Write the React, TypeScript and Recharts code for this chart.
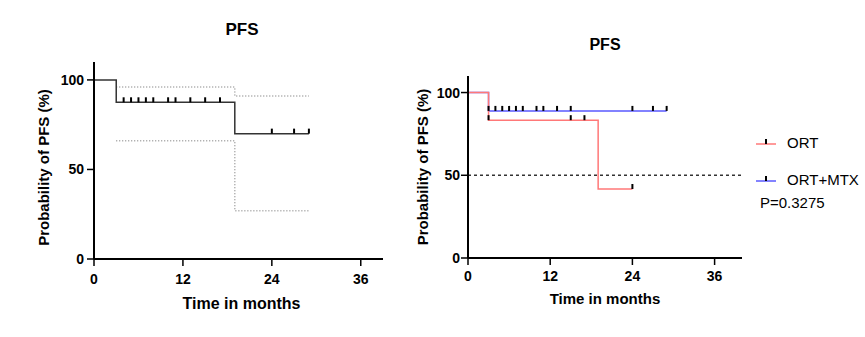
import { ComposedChart, Line, Scatter, XAxis, YAxis, ReferenceLine } from "recharts";

const xTicks = [0, 12, 24, 36];
const yTicks = [0, 50, 100];

// whole cohort
const allTimes = [0, 3, 19, 29];
const allSurv = [100, 87.5, 70, 70];
const allCensored = [4, 5, 6, 7, 8, 10, 11, 13, 15, 17, 24, 27, 29];
const ciTimes = [3, 19, 29];
const ciUpper = [96, 91, 91];
const ciLower = [66, 27, 27];

// by treatment
const ortTimes = [0, 3, 19, 24];
const ortSurv = [100, 83.3, 41.7, 41.7];
const ortCensored = [3, 15, 17, 24];
const mtxTimes = [0, 3, 29];
const mtxSurv = [100, 88.9, 88.9];
const mtxCensored = [3, 4, 5, 6, 7, 8, 10, 11, 13, 15, 24, 27, 29];

const groups = [
  { name: "ORT", color: "#ff7878" },
  { name: "ORT+MTX", color: "#5a5aff" },
];
const pValue = "P=0.3275";

const FONT = "'Liberation Sans', Arial, sans-serif";

const toPoints = (xs: number[], ys: number[]) => xs.map((x, i) => ({ x, y: ys[i] }));

// survival value of a step curve at time t
const survAt = (xs: number[], ys: number[], t: number) => {
  let v = ys[0];
  xs.forEach((x, i) => {
    if (x <= t) v = ys[i];
  });
  return v;
};

const censorPoints = (xs: number[], ys: number[], cs: number[]) =>
  cs.map((t) => ({ x: t, y: survAt(xs, ys, t) }));

const CensorTick = (props: any) => {
  const { cx, cy } = props;
  if (cx == null || cy == null) return null;
  return <line x1={cx} x2={cx} y1={cy} y2={cy - 5} stroke="#000" strokeWidth={2} />;
};

const axisLine = { stroke: "#000", strokeWidth: 2 };
const tickLine = { stroke: "#000", strokeWidth: 1.5 };
const tickStyle = { fill: "#000", fontSize: 14, fontWeight: 700, fontFamily: FONT };

const yTitle = (dx: number, dy: number) => (props: any) => {
  const vb = props.viewBox;
  const x = vb.x + dx;
  const y = vb.y + vb.height / 2 + dy;
  return (
    <text
      x={x}
      y={y}
      transform={`rotate(-90, ${x}, ${y})`}
      textAnchor="middle"
      dominantBaseline="central"
      fontFamily={FONT}
      fontWeight={700}
      fontSize={15}
      fill="#000"
    >
      Probability of PFS (%)
    </text>
  );
};

const xTitle = (dx: number, dy: number, size: number) => (props: any) => {
  const vb = props.viewBox;
  return (
    <text
      x={vb.x + vb.width / 2 + dx}
      y={vb.y + dy}
      textAnchor="middle"
      dominantBaseline="central"
      fontFamily={FONT}
      fontWeight={700}
      fontSize={size}
      fill="#000"
    >
      Time in months
    </text>
  );
};

function Title({ x, y, size }: { x: number; y: number; size: number }) {
  return (
    <div
      style={{
        position: "absolute",
        left: x - 50,
        top: y - size / 2 - 2,
        width: 100,
        textAlign: "center",
        fontFamily: FONT,
        fontWeight: 700,
        fontSize: size,
        lineHeight: `${size + 4}px`,
      }}
    >
      PFS
    </div>
  );
}

export default function App() {
  const allCurve = toPoints(allTimes, allSurv);
  const upper = toPoints(ciTimes, ciUpper);
  const lower = toPoints(ciTimes, ciLower);
  const allCens = censorPoints(allTimes, allSurv, allCensored);

  const ortCurve = toPoints(ortTimes, ortSurv);
  const mtxCurve = toPoints(mtxTimes, mtxSurv);
  const ortCens = censorPoints(ortTimes, ortSurv, ortCensored);
  const mtxCens = censorPoints(mtxTimes, mtxSurv, mtxCensored);

  return (
    <div
      style={{
        position: "absolute",
        left: 0,
        top: 0,
        width: 865,
        height: 337,
        background: "#fff",
        fontFamily: FONT,
      }}
    >
      <Title x={242} y={29} size={17} />
      <div style={{ position: "absolute", left: 0, top: 0 }}>
        <ComposedChart width={400} height={337} margin={{ top: 62, right: 17, left: 34, bottom: 48 }}>
          <XAxis
            type="number"
            dataKey="x"
            domain={[0, 39]}
            ticks={xTicks}
            interval={0}
            axisLine={axisLine}
            tickLine={tickLine}
            tickSize={7}
            tickMargin={8}
            tick={tickStyle}
            label={{ content: xTitle(3, 44, 16) }}
          />
          <YAxis
            type="number"
            domain={[0, 110]}
            ticks={yTicks}
            interval={0}
            width={60}
            axisLine={axisLine}
            tickLine={tickLine}
            tickSize={7}
            tickMargin={3}
            tick={tickStyle}
            label={{ content: yTitle(9, 7) }}
          />
          <Line data={upper} dataKey="y" type="stepAfter" stroke="#9a9a9a" strokeWidth={1.5} strokeDasharray="1 2" dot={false} activeDot={false} isAnimationActive={false} />
          <Line data={lower} dataKey="y" type="stepAfter" stroke="#9a9a9a" strokeWidth={1.5} strokeDasharray="1 2" dot={false} activeDot={false} isAnimationActive={false} />
          <Line data={allCurve} dataKey="y" type="stepAfter" stroke="#333" strokeWidth={1.5} dot={false} activeDot={false} isAnimationActive={false} />
          <Scatter data={allCens} dataKey="y" shape={CensorTick} isAnimationActive={false} />
        </ComposedChart>
      </div>

      <Title x={605} y={45} size={16} />
      <div style={{ position: "absolute", left: 400, top: 0 }}>
        <ComposedChart width={350} height={337} margin={{ top: 76, right: 8, left: 8, bottom: 49 }}>
          <XAxis
            type="number"
            dataKey="x"
            domain={[0, 40]}
            ticks={xTicks}
            interval={0}
            axisLine={axisLine}
            tickLine={tickLine}
            tickSize={7}
            tickMargin={6}
            tick={tickStyle}
            label={{ content: xTitle(0, 40, 15) }}
          />
          <YAxis
            type="number"
            domain={[0, 110]}
            ticks={yTicks}
            interval={0}
            width={60}
            axisLine={axisLine}
            tickLine={tickLine}
            tickSize={7}
            tickMargin={1}
            tick={tickStyle}
            label={{ content: yTitle(14, 0) }}
          />
          <ReferenceLine y={50} stroke="#333" strokeWidth={1.5} strokeDasharray="3 3" />
          <Line data={mtxCurve} dataKey="y" type="stepAfter" stroke={groups[1].color} strokeWidth={1.5} dot={false} activeDot={false} isAnimationActive={false} />
          <Line data={ortCurve} dataKey="y" type="stepAfter" stroke={groups[0].color} strokeWidth={1.5} dot={false} activeDot={false} isAnimationActive={false} />
          <Scatter data={mtxCens} dataKey="y" shape={CensorTick} isAnimationActive={false} />
          <Scatter data={ortCens} dataKey="y" shape={CensorTick} isAnimationActive={false} />
        </ComposedChart>
      </div>

      <div style={{ position: "absolute", left: 756, top: 131, fontSize: 15, color: "#000" }}>
        {groups.map((g, i) => (
          <div key={g.name} style={{ display: "flex", alignItems: "center", height: 22, marginBottom: i === 0 ? 15 : 2 }}>
            <svg width={20} height={10} style={{ marginRight: 11 }}>
              <line x1={0} x2={20} y1={7} y2={7} stroke={g.color} strokeWidth={1.5} />
              <line x1={10} x2={10} y1={7} y2={2} stroke="#000" strokeWidth={2} />
            </svg>
            <span>{g.name}</span>
          </div>
        ))}
        <div style={{ marginLeft: 4, height: 22, lineHeight: "22px" }}>{pValue}</div>
      </div>
    </div>
  );
}
